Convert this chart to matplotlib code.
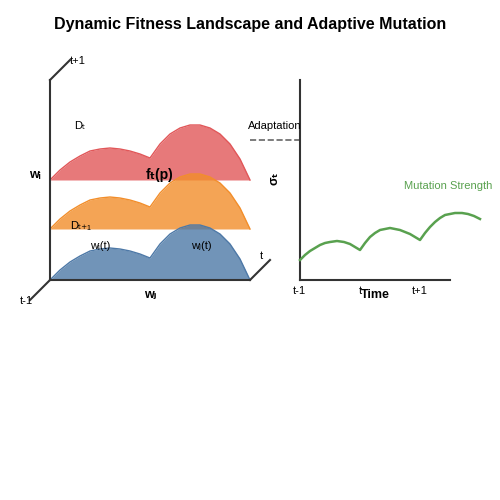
import matplotlib.pyplot as plt

plt.rcParams['font.family'] = ['Liberation Sans', 'DejaVu Sans']

# landscape profile: offsets (px from left edge) and heights
prof_x = [0, 10, 20, 30, 40, 50, 60, 70, 80, 90, 100,
          110, 120, 130, 140, 150, 160, 170, 180, 190, 200]
prof_h = [0, 10, 18, 24, 29, 31, 32, 31, 29, 26, 22,
          36, 46, 52, 55, 55, 52, 46, 36, 21, 0]
layer_base = [180, 229, 280]          # red (t+1), orange (t), blue (t-1)
layer_colors = ['#e15759', '#f28e2b', '#4e79a7']

# mutation strength over time
time_x = [300, 305, 310, 315, 320, 325, 330, 337, 344, 350, 355, 360,
          365, 370, 375, 380, 385, 390, 395, 400, 405, 410, 415, 420,
          425, 430, 435, 440, 445, 450, 455, 462, 468, 474, 480]
sigma_y = [260, 255, 251, 248, 245, 243, 242, 241, 242, 244, 247, 250,
           243, 237, 233, 230, 229, 228, 229, 230, 232, 234, 237, 240,
           233, 227, 222, 218, 215, 214, 213, 213, 214, 216, 219]

fig = plt.figure(figsize=(5, 5), dpi=100)
ax = fig.add_axes([0, 0, 1, 1])
ax.set_xlim(0, 500)
ax.set_ylim(500, 0)
ax.axis('off')

for base, c in zip(layer_base, layer_colors):
    xs = [50 + v for v in prof_x]
    ys = [base - h for h in prof_h]
    ax.fill_between(xs, ys, base, color=c, alpha=0.8, lw=0)
    ax.plot(xs, ys, color=c, lw=1)

k = '#333333'
ax.plot([50, 50], [80, 280], color=k, lw=1.5)
ax.plot([50, 70], [80, 60], color=k, lw=1.5)
ax.plot([50, 250], [280, 280], color=k, lw=1.5)
ax.plot([50, 30], [280, 300], color=k, lw=1.5)
ax.plot([250, 270], [280, 260], color=k, lw=1.5)

ax.text(70, 61, 't+1', fontsize=8, va='center')
ax.text(20, 301, 't-1', fontsize=8, va='center')
ax.text(260, 256, 't', fontsize=8, va='center')
ax.text(35, 175, 'wᵢ', fontsize=9, fontweight='bold', ha='center', va='center')
ax.text(160, 175, 'fₜ(p)', fontsize=10, fontweight='bold', ha='center', va='center')
ax.text(74, 126, 'Dₜ', fontsize=8, va='center')
ax.text(70, 226, 'Dₜ₊₁', fontsize=8, va='center')
ax.text(100, 246, 'wᵢ(t)', fontsize=8, ha='center', va='center')
ax.text(201, 246, 'wⱼ(t)', fontsize=8, ha='center', va='center')
ax.text(150, 295, 'wⱼ', fontsize=9, fontweight='bold', ha='center', va='center')

ax.text(275, 126, 'Adaptation', fontsize=8, ha='center', va='center')
ax.plot([250, 300], [140, 140], color='#666666', lw=1.2, ls='--')

ax.plot([300, 300], [80, 280], color=k, lw=1.5)
ax.plot([300, 450], [280, 280], color=k, lw=1.5)
ax.plot(time_x, sigma_y, color='#59a14f', lw=1.8)
ax.text(299, 291, 't-1', fontsize=8, ha='center', va='center')
ax.text(360, 291, 't', fontsize=8, ha='center', va='center')
ax.text(420, 291, 't+1', fontsize=8, ha='center', va='center')
ax.text(375, 295, 'Time', fontsize=9, fontweight='bold', ha='center', va='center')
ax.text(275, 178, 'σₜ', fontsize=9, fontweight='bold', rotation=90, ha='center', va='center')
ax.text(448, 186, 'Mutation Strength', fontsize=8, color='#59a14f', ha='center', va='center')

ax.text(250, 24, 'Dynamic Fitness Landscape and Adaptive Mutation', fontsize=11.5,
        fontweight='bold', ha='center', va='center')

fig.savefig('out.png', dpi=100)
